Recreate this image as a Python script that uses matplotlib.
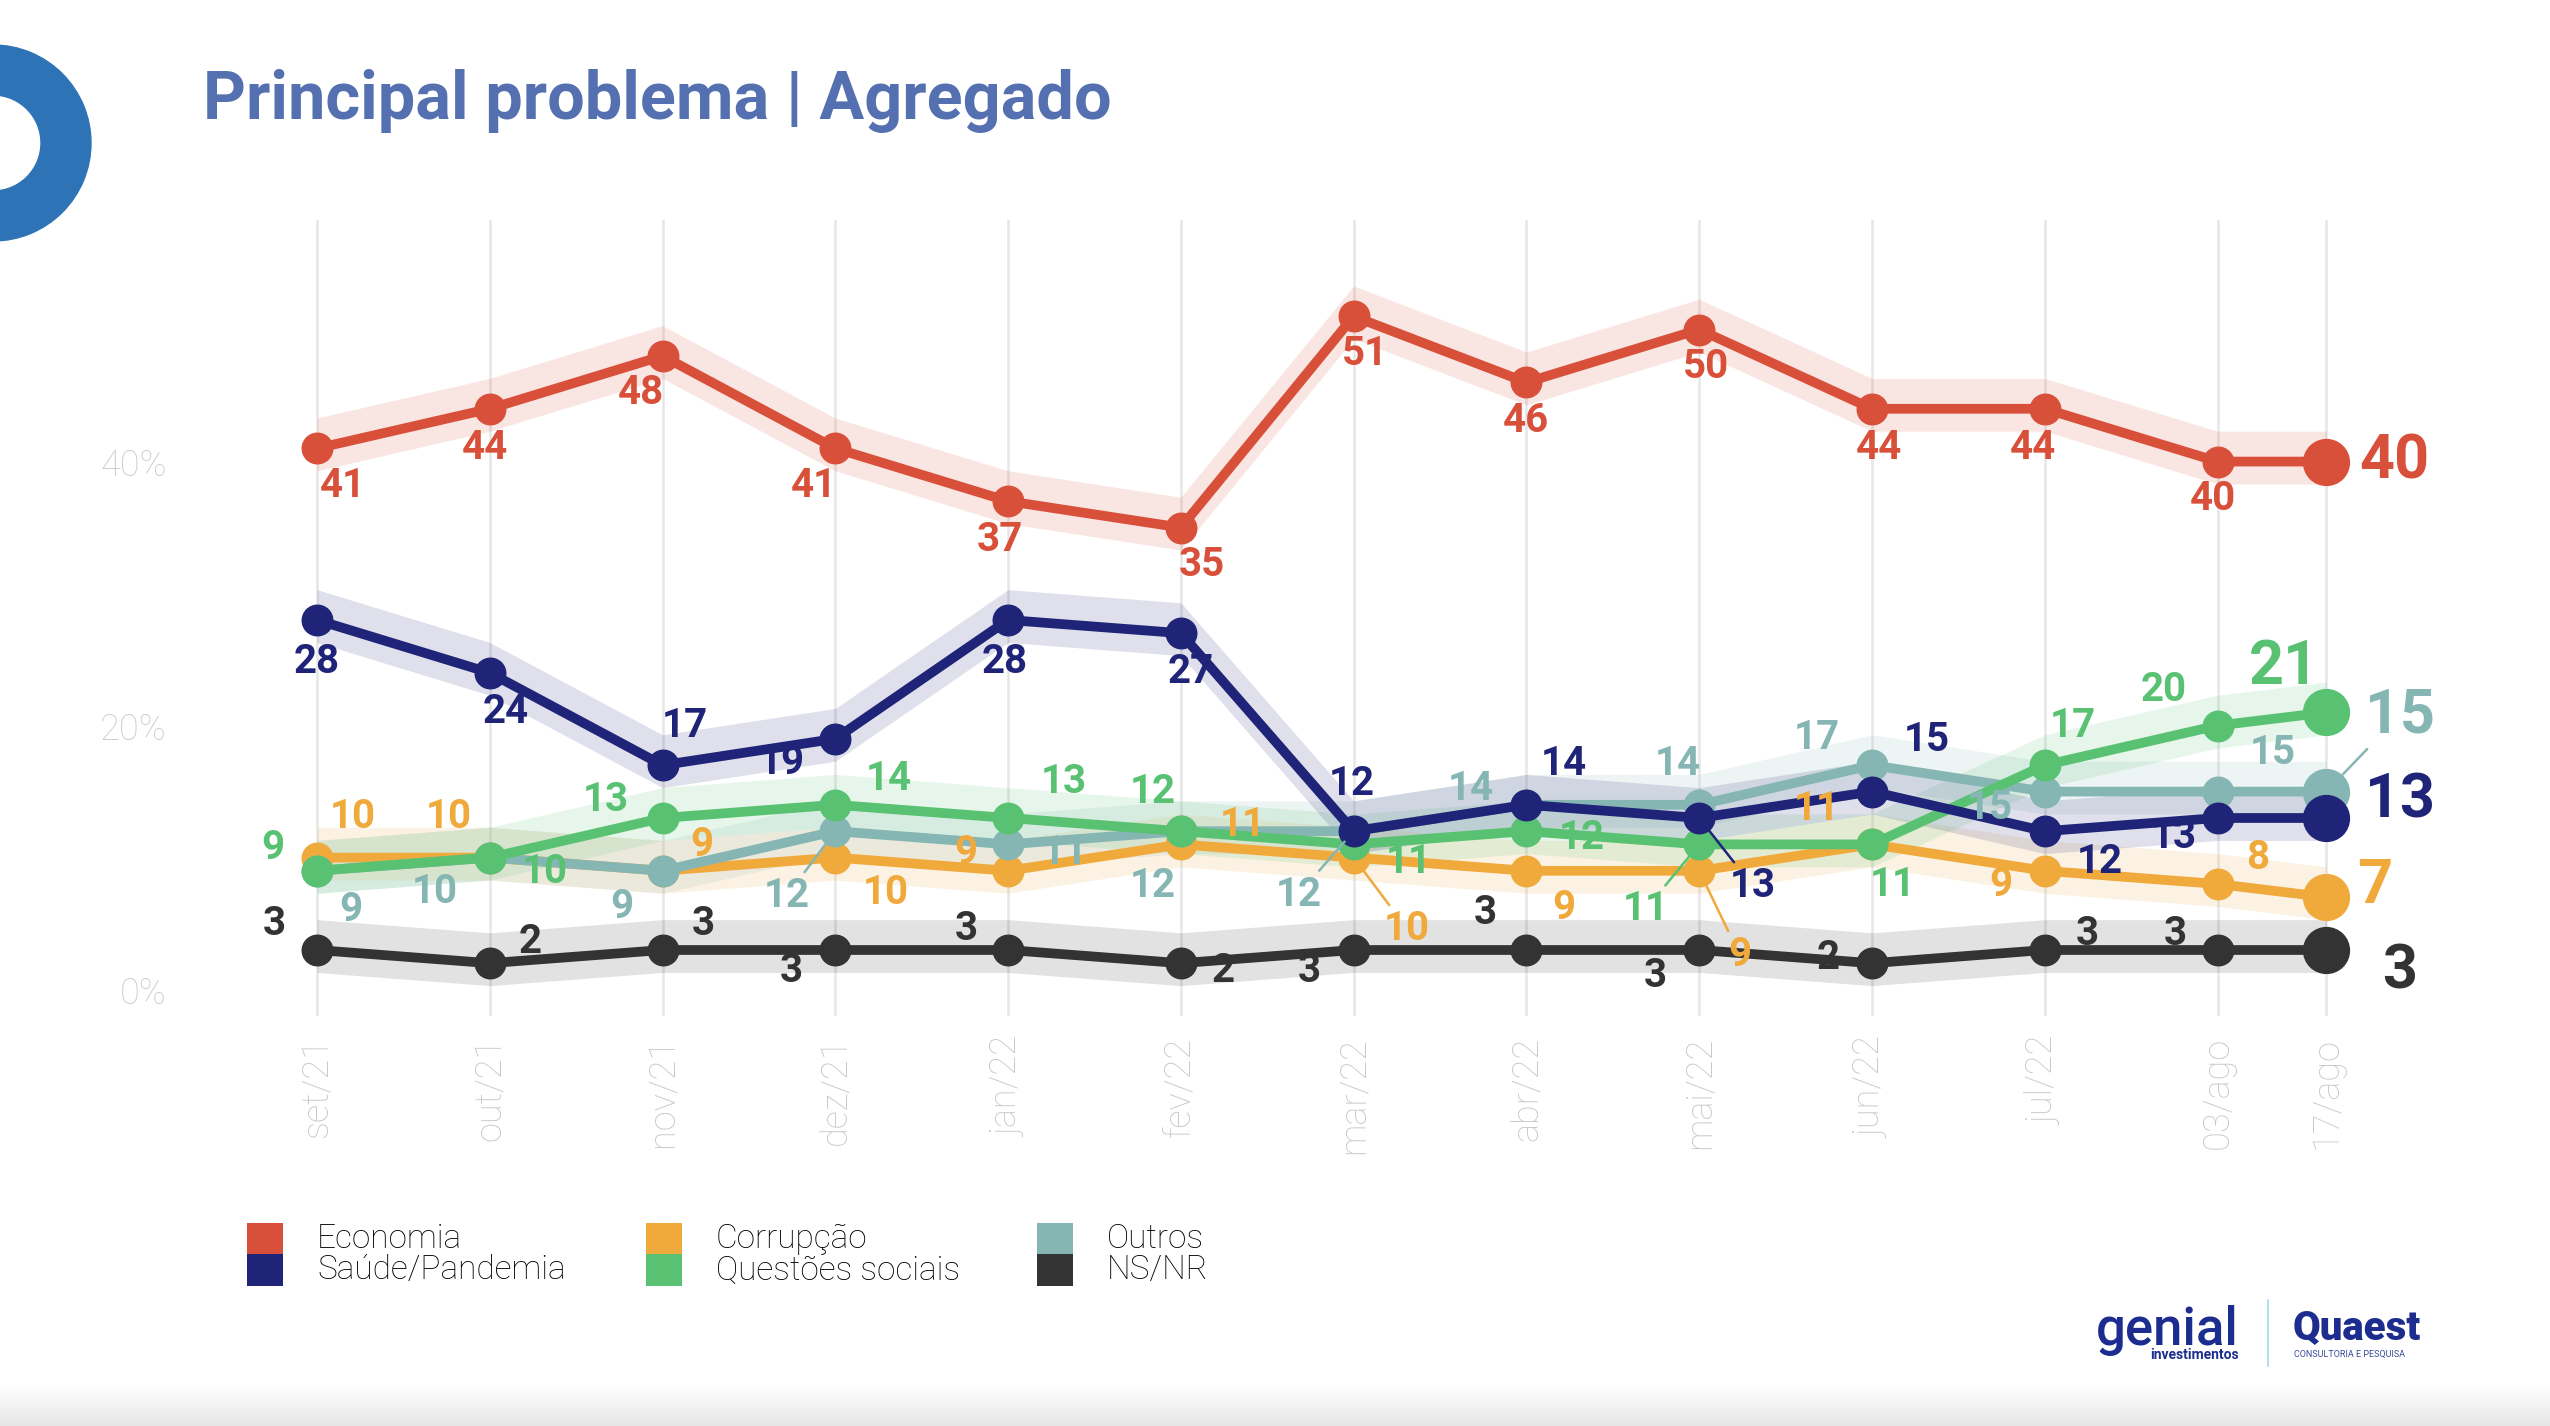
import numpy as np
import matplotlib.pyplot as plt
import matplotlib.patches as mpatches
import matplotlib.font_manager as fm
from matplotlib.colors import LinearSegmentedColormap

# fonts: condensed bold for numbers/title if available
available = {f.name for f in fm.fontManager.ttflist}
COND = 'Liberation Sans Narrow' if 'Liberation Sans Narrow' in available else 'Roboto'
LIGHT = 'Roboto'

# Data
months = ['set/21', 'out/21', 'nov/21', 'dez/21', 'jan/22', 'fev/22', 'mar/22',
          'abr/22', 'mai/22', 'jun/22', 'jul/22', '03/ago', '17/ago']
x_pos = [0, 1, 2, 3, 4, 5, 6, 7, 8, 9, 10, 11, 11.63]

economia = [41, 44, 48, 41, 37, 35, 51, 46, 50, 44, 44, 40, 40]
saude = [28, 24, 17, 19, 28, 27, 12, 14, 13, 15, 12, 13, 13]
corrupcao = [10, 10, 9, 10, 9, 11, 10, 9, 9, 11, 9, 8, 7]
questoes = [9, 10, 13, 14, 13, 12, 11, 12, 11, 11, 17, 20, 21]
outros = [9, 10, 9, 12, 11, 12, 12, 14, 14, 17, 15, 15, 15]
nsnr = [3, 2, 3, 3, 3, 2, 3, 3, 3, 2, 3, 3, 3]

# label offsets (screen px, y down) for each point
off_econ = [(16, 23), (-3, 24), (-13, 23), (-13, 23), (-5, 24), (13, 23), (7, 23),
            (0, 24), (4, 23), (4, 24), (-7, 24), (-3, 23), (42, 0)]
off_saude = [(0, 26), (10, 24), (14, -24), (-33, 15), (-2, 26), (6, 24), (-1, -29),
             (23, -25), (33, 42), (34, -32), (34, 19), (-27, 12), (45, -11)]
off_corr = [(22, -25), (-25, -25), (24, -16), (31, 22), (-26, -11), (38, -12), (33, 44),
            (23, 23), (25, 52), (-34, -22), (-27, 9), (25, -16), (30, -7)]
off_quest = [(-27, -14), (34, 9), (-35, -11), (33, -16), (34, -22), (-17, -24), (34, 11),
             (34, 4), (-33, 40), (13, 25), (17, -24), (-33, -22), (-26, -28)]
off_outros = [(21, 24), (-34, 21), (-25, 22), (-30, 40), (35, 5), (-17, 34), (-34, 39),
              (-34, -10), (-13, -25), (-34, -17), (-34, 10), (34, -24), (45, -47)]
off_ns = [(-26, -16), (25, -13), (25, -16), (-27, 13), (-26, -13), (26, 5), (-27, 13),
          (-25, -23), (-27, 16), (-27, -3), (26, -10), (-26, -10), (45, 13)]

series = [
    ('Corrupção', corrupcao, '#F0A93B', off_corr, [6, 8], 3),
    ('Outros', outros, '#85B6B3', off_outros, [3, 6, 12], 4),
    ('Questões sociais', questoes, '#58C272', off_quest, [8], 5),
    ('Saúde/Pandemia', saude, '#1F2478', off_saude, [8], 6),
    ('NS/NR', nsnr, '#333333', off_ns, [], 3),
    ('Economia', economia, '#D9503A', off_econ, [], 7),
]

W, H = 2550, 1426
fig = plt.figure(figsize=(W / 100, H / 100), dpi=100)
ax = fig.add_axes([196 / W, 1 - 1016 / H, (2494 - 196) / W, (1016 - 220) / H])

band = 2.0
for name, vals, c, offs, leaders, z in series:
    v = np.array(vals, dtype=float)
    ax.fill_between(x_pos, v - band + 0.3, v + band + 0.3, color=c, alpha=0.14, lw=0, zorder=1)
    ax.plot(x_pos, v, color=c, lw=7, zorder=z, solid_capstyle='round')
    ax.plot(x_pos[:-1], v[:-1], 'o', color=c, ms=22, zorder=z)
    ax.plot(x_pos[-1], v[-1], 'o', color=c, ms=33, zorder=z)
    for i, (val, (dx, dy)) in enumerate(zip(vals, offs)):
        last = i == len(vals) - 1
        kw = dict(xy=(x_pos[i], val), xytext=(dx * 1.17, -dy * 1.17),
                  textcoords='offset points', ha='center', va='center',
                  color=c, fontsize=44 if last else 29, fontweight='bold',
                  family=[COND, 'DejaVu Sans'], zorder=10)
        if i in leaders:
            kw['arrowprops'] = dict(arrowstyle='-', color=c, lw=1.8,
                                    shrinkA=2, shrinkB=17 if last else 10)
        ax.annotate(str(val), **kw)

ax.set_xlim(-0.7, 12.6)
ax.set_ylim(-2, 58.3)
ax.set_xticks(x_pos)
ax.set_xticklabels(months, rotation=90, color='#c9c9c9', fontsize=26, family=LIGHT,
                   fontweight='light')
ax.set_yticks([0, 20, 40])
ax.set_yticklabels(['0%', '20%', '40%'], color='#cccccc', fontsize=26, family=LIGHT,
                   fontweight='light')
ax.tick_params(axis='x', length=0, pad=15)
ax.tick_params(axis='y', length=0, pad=21)
ax.grid(axis='x', color='#e6e6e6', lw=1.8)
ax.set_axisbelow(True)
for s in ax.spines.values():
    s.set_visible(False)

# overlay for title, legend and decorations
ov = fig.add_axes([0, 0, 1, 1], zorder=-1)
ov.axis('off')

grad = np.linspace(0, 1, 50).reshape(-1, 1)
ov.imshow(grad, extent=(0, W, H, 1385), aspect='auto', origin='upper', zorder=0,
          cmap=LinearSegmentedColormap.from_list('g', ['#ffffff', '#e6e6e6']))

ov.add_patch(mpatches.Wedge((-7, 143), 98, 0, 360, width=50, color='#2F73B7'))
ov.text(203, 101, 'Principal problema | Agregado', fontsize=48, fontweight='bold',
        color='#5470B0', family=[COND, 'DejaVu Sans'], va='center', ha='left')

legend_items = [('Economia', '#D9503A', 247, 0), ('Saúde/Pandemia', '#1F2478', 247, 1),
                ('Corrupção', '#F0A93B', 646, 0), ('Questões sociais', '#58C272', 646, 1),
                ('Outros', '#85B6B3', 1037, 0), ('NS/NR', '#333333', 1037, 1)]
for lab, c, x0, row in legend_items:
    y0 = 1223 + row * 31
    ov.add_patch(mpatches.Rectangle((x0, y0), 36, 32, color=c, lw=0))
    ov.text(x0 + 70, y0 + 16, lab, fontsize=24, family=LIGHT, fontweight='light',
            color='black', va='center', ha='left')

# logos
ov.text(2239, 1330, 'genial', fontsize=38, fontweight='medium', family='Roboto',
        color='#1C2D8F', ha='right', va='center')
ov.text(2239, 1355, 'investimentos', fontsize=10, fontweight='bold', family='Roboto',
        color='#1C2D8F', ha='right', va='center')
ov.plot([2268, 2268], [1300, 1366], color='#a8d8f0', lw=1.2)
ov.text(2293, 1328, 'Quaest', fontsize=29, fontweight='black', family='Roboto',
        color='#1C2D8F', ha='left', va='center')
ov.text(2294, 1354, 'CONSULTORIA E PESQUISA', fontsize=6.5, family='Roboto',
        color='#3a4a9a', ha='left', va='center')

ov.set_xlim(0, W)
ov.set_ylim(H, 0)

fig.savefig('out.png', dpi=100)
